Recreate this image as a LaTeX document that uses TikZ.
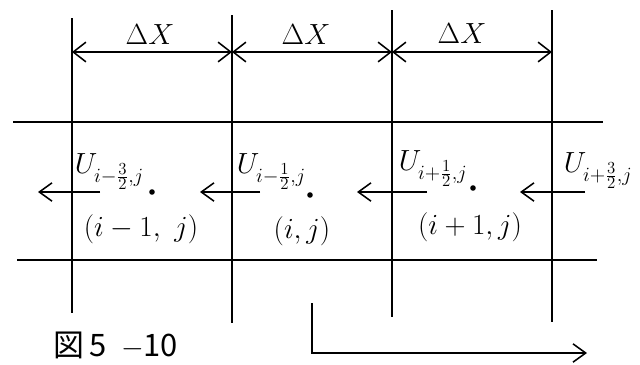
\documentclass[tikz,border=0pt]{standalone}
\usepackage{amsmath}
\usepackage{fontspec}
\newfontfamily\cjkfont{Noto Sans CJK JP}
\usetikzlibrary{arrows.meta, positioning}

\begin{document}
\begin{tikzpicture}[x=0.025cm,y=-0.025cm,line width=1.1pt,
  flux/.style={-{Straight Barb[length=9pt,width=13pt]}},
  span/.style={{Straight Barb[length=9pt,width=14pt]}-{Straight Barb[length=9pt,width=14pt]}},
  rowline/.style={line width=1.4pt},
  lab/.style={inner sep=0pt,font=\huge},
  ctr/.style={circle,fill=black,inner sep=1.4pt}]
\useasboundingbox (0,0) rectangle (640,364);
\foreach \k/\x/\ya/\yb in {1/72/18/313,2/232/15/323,3/392/10/317,4/552/10/322}{
  \coordinate (top\k) at (\x,\ya);
  \coordinate (bot\k) at (\x,\yb);
  \coordinate (dim\k) at (\x,52);
  \draw (top\k) -- (bot\k);
}
\coordinate (rowNW) at (13,122); \coordinate (rowNE) at (603,122);
\coordinate (rowSW) at (17,260); \coordinate (rowSE) at (597,260);
\draw[rowline] (rowNW) -- (rowNE);
\draw[rowline] (rowSW) -- (rowSE);
\draw[span] (dim1) -- (dim2);
\draw[span] (dim2) -- (dim3);
\draw[span] (dim3) -- (dim4);
\node[lab] (dxA) at (150,35) {$\Delta X$};
\node[lab] (dxB) at (306,35) {$\Delta X$};
\node[lab] (dxC) at (462,34) {$\Delta X$};
\node[lab,anchor=north west] (uA) at (74,153) {$U_{i-\frac{3}{2},j}$};
\node[lab,anchor=north west] (uB) at (236,153) {$U_{i-\frac{1}{2},j}$};
\node[lab,anchor=north west] (uC) at (398,150) {$U_{i+\frac{1}{2},j}$};
\node[lab,anchor=north west] (uD) at (563,152) {$U_{i+\frac{3}{2},j}$};
\node[ctr] (cA) at (152,192) {};
\node[ctr] (cB) at (310,195) {};
\node[ctr] (cC) at (473,188) {};
\node[lab] (pA) at (141,229) {$(i-1,\ j)$};
\node[lab] (pB) at (302,231) {$(i,j)$};
\node[lab] (pC) at (470,227) {$(i+1,j)$};
\foreach \k/\xa/\xb in {A/100/38,B/260/200,C/427/357,D/585/520}{
  \coordinate (fs\k) at (\xa,192);
  \coordinate (fe\k) at (\xb,192);
  \draw[flux] (fs\k) -- (fe\k);
}
\coordinate (turnS) at (312,303); \coordinate (turnE) at (587,353);
\draw[flux] (turnS) |- (turnE);
\node[font=\fontsize{22}{26}\selectfont] (fig) at (116,345) {\cjkfont 図\,5\ \ $-$10};
\end{tikzpicture}
\end{document}
